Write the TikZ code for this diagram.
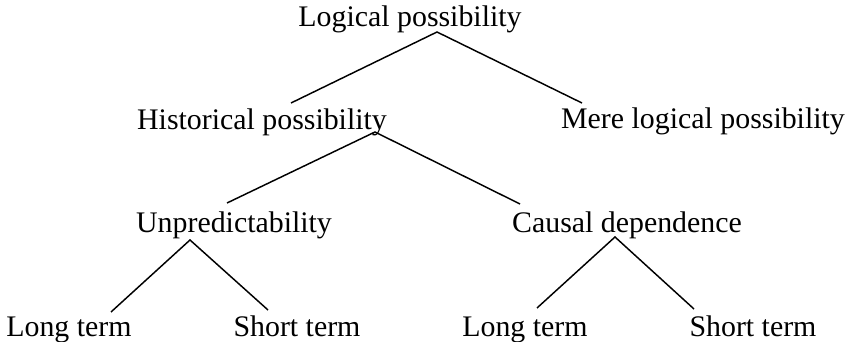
\documentclass[tikz,border=0pt]{standalone}
\usepackage{fontspec}
\setmainfont{Liberation Serif}
\usetikzlibrary{calc}
\begin{document}
\begin{tikzpicture}[x=0.75pt,y=-0.75pt,line width=1.1pt,
  every node/.style={inner sep=0pt,anchor=base,font=\fontsize{22.4}{26}\selectfont}]
  \useasboundingbox (0,0) rectangle (847,342);
  % levels of possibility
  \node (lp)  at (410,27)  {Logical possibility};
  \node (hp)  at (262,130) {Historical possibility};
  \node (mlp) at (703,129) {Mere logical possibility};
  \node (un)  at (234,233) {Unpredictability};
  \node (cd)  at (627,233) {Causal dependence};
  \node (lt1) at (69,337)  {Long term};
  \node (st1) at (297,337) {Short term};
  \node (lt2) at (525,337) {Long term};
  \node (st2) at (753,337) {Short term};
  % branches
  \draw ($(hp.base)+(29,-27)$) -- ($(lp.base)+(27,5)$) -- ($(mlp.base)+(-121,-26)$);
  \draw ($(un.base)+(-7,-30)$) -- ($(hp.base)+(113,2)$) -- ($(cd.base)+(-107,-29)$);
  \draw ($(lt1.base)+(42,-25)$) -- ($(un.base)+(-44,7)$) -- ($(st1.base)+(-29,-27)$);
  \draw ($(lt2.base)+(12,-29)$) -- ($(cd.base)+(-12,4)$) -- ($(st2.base)+(-59,-28)$);
\end{tikzpicture}
\end{document}
